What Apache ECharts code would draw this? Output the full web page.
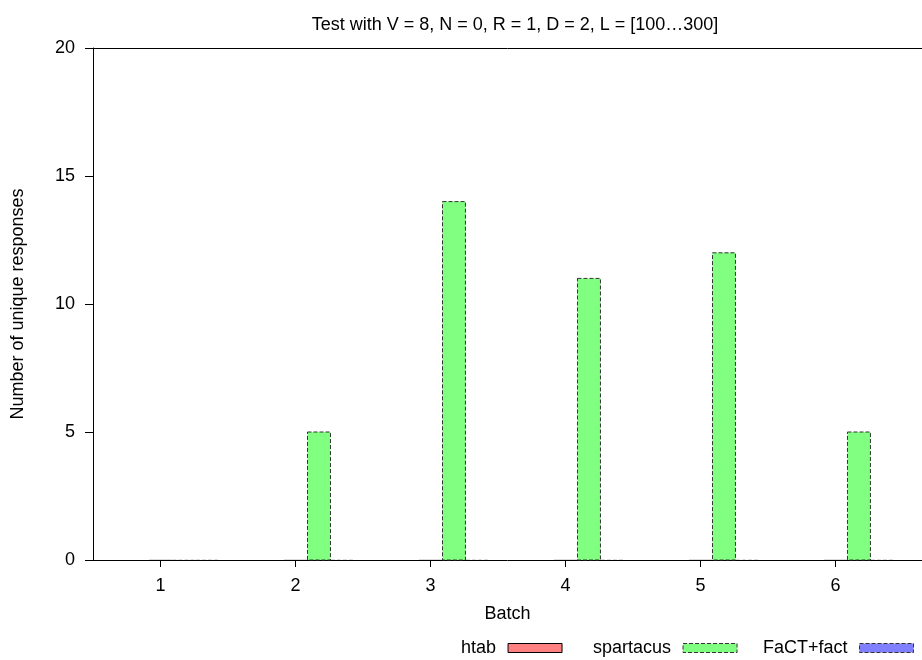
<!DOCTYPE html>
<html>
<head>
<meta charset="utf-8">
<script src="https://cdn.jsdelivr.net/npm/echarts@6/dist/echarts.min.js"></script>
<style>
  html, body { margin: 0; padding: 0; background: #fff; }
  #chart { width: 922px; height: 660px; }
</style>
</head>
<body>
<div id="chart"></div>
<script>
const batches = [1, 2, 3, 4, 5, 6];
const htab = [0, 0, 0, 0, 0, 0];
const spartacus = [0, 5, 14, 11, 12, 5];
const factFact = [0, 0, 0, 0, 0, 0];
const yTicks = [0, 5, 10, 15, 20];

const font = 'Liberation Sans, Arial, sans-serif';
const fs = 18;
const barW = 0.17;
const xMin = 0.5;
const xMax = 6.641;

function barSeries(name, values, offset, fill, dashed) {
  return {
    name: name,
    type: 'custom',
    xAxisIndex: 0,
    itemStyle: { color: fill, borderColor: '#000', borderWidth: 1, borderType: dashed ? 'dashed' : 'solid' },
    data: batches.map((b, i) => [b + offset, values[i]]),
    renderItem: function (params, api) {
      const x = api.value(0);
      const y = api.value(1);
      const p0 = api.coord([x - barW / 2, y]);
      const p1 = api.coord([x + barW / 2, 0]);
      return {
        type: 'rect',
        shape: { x: p0[0], y: p0[1], width: p1[0] - p0[0], height: p1[1] - p0[1] },
        style: {
          fill: fill,
          stroke: y === 0 ? 'rgba(0,0,0,0.15)' : (dashed ? '#333' : '#000'),
          lineWidth: 1,
          lineDash: dashed ? [4, 2] : null
        }
      };
    }
  };
}

const chart = echarts.init(document.getElementById('chart'));

function legendFor(name, fill, dashed, left) {
  return {
    left: left,
    top: 639,
    padding: 0,
    align: 'right',
    icon: 'rect',
    itemWidth: 54,
    itemHeight: 9,
    itemGap: 0,
    data: [{
      name: name,
      itemStyle: { color: fill, borderColor: dashed ? '#333' : '#000', borderWidth: 1, borderType: dashed ? 'dashed' : 'solid' }
    }],
    textStyle: { fontFamily: font, fontSize: fs, color: '#000', padding: [0, 7, 0, 0] },
    selectedMode: false
  };
}

chart.setOption({
  animation: false,
  title: {
    text: 'Test with V = 8, N = 0, R = 1, D = 2, L = [100…300]',
    left: 510,
    textAlign: 'center',
    top: 11,
    textStyle: { fontFamily: font, fontSize: fs, fontWeight: 'normal', color: '#000' }
  },
  legend: [
    legendFor('htab', '#ff8080', false, 461),
    legendFor('spartacus', '#80ff80', true, 593),
    legendFor('FaCT+fact', '#8080ff', true, 763)
  ],
  grid: { left: 93, right: 0, top: 48, bottom: 100 },
  xAxis: [{
    type: 'value',
    min: xMin,
    max: xMax,
    name: 'Batch',
    nameLocation: 'middle',
    nameGap: 45,
    nameTextStyle: { fontFamily: font, fontSize: fs, color: '#000' },
    axisLine: { show: true, onZero: false, lineStyle: { color: '#000', width: 1 } },
    axisTick: { show: true, customValues: batches, length: 7, lineStyle: { color: '#000' } },
    axisLabel: { customValues: batches, fontFamily: font, fontSize: fs, color: '#000', margin: 17 },
    splitLine: { show: false }
  }, {
    type: 'value',
    position: 'top',
    min: xMin,
    max: xMax,
    axisLine: { show: true, onZero: false, lineStyle: { color: '#000', width: 1 } },
    axisTick: { show: false },
    axisLabel: { show: false },
    splitLine: { show: false }
  }],
  yAxis: {
    type: 'value',
    min: 0,
    max: 20,
    interval: 5,
    name: 'Number of unique responses',
    nameLocation: 'middle',
    nameGap: 66,
    nameTextStyle: { fontFamily: font, fontSize: fs, color: '#000' },
    axisLine: { show: true, lineStyle: { color: '#000', width: 1 } },
    axisTick: { show: true, length: 8, lineStyle: { color: '#000' } },
    axisLabel: {
      fontFamily: font, fontSize: fs, color: '#000', margin: 18,
      formatter: (v) => (yTicks.indexOf(v) >= 0 ? String(v) : '')
    },
    splitLine: { show: false }
  },
  series: [
    barSeries('htab', htab, 0, '#ff8080', false),
    barSeries('spartacus', spartacus, 0.174, '#80ff80', true),
    barSeries('FaCT+fact', factFact, 0.348, '#8080ff', true)
  ]
});
</script>
</body>
</html>
